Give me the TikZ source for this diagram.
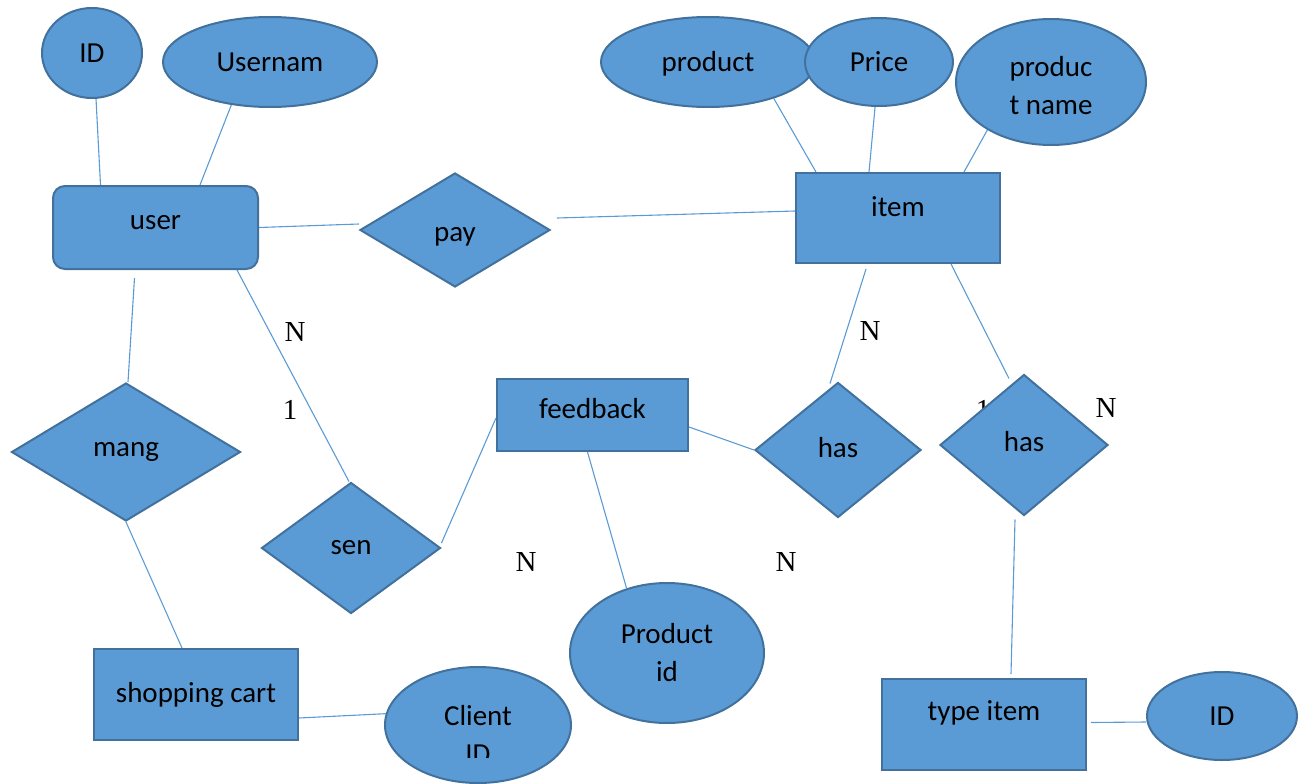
\documentclass[tikz,border=0pt]{standalone}
\usepackage{fontspec}
\setmainfont{Carlito}
\newfontfamily\cardfont{Liberation Serif}
\usetikzlibrary{shapes.geometric}
\pgfdeclarelayer{bg}
\pgfsetlayers{bg,main}
\definecolor{shapefill}{HTML}{5B9BD5}
\definecolor{shapeline}{HTML}{41719C}
\definecolor{linkcol}{HTML}{5B9BD5}
\begin{document}
\begin{tikzpicture}[x=1pt,y=-1pt,
  base/.style={fill=shapefill, draw=shapeline, line width=2pt, inner sep=0pt,
    font=\fontsize{29}{38}\selectfont, text=black},
  entity/.style={base, rectangle},
  attr/.style={base, ellipse, align=center},
  rel/.style={base, diamond},
  cline/.style={draw=linkcol, line width=1.1pt},
  card/.style={font=\cardfont\fontsize{29}{34}\selectfont, inner sep=0pt, text=black}]
\useasboundingbox (0,0) rectangle (1304,784);

% entities
\node[entity, rounded corners=12pt, minimum width=205pt, minimum height=83pt, text depth=10pt] (user) at (155.5,227.5) {user};
\node[entity, minimum width=204pt, minimum height=90pt, text depth=22pt] (item) at (898,218) {item};
\node[entity, minimum width=191pt, minimum height=72pt, text depth=14pt] (fb) at (592.5,415) {feedback};
\node[entity, minimum width=204pt, minimum height=91pt] (cart) at (196,694.5) {shopping cart};
\node[entity, minimum width=204pt, minimum height=91pt, text depth=28pt] (titem) at (984,724.5) {type item};

% attributes
\node[attr, minimum width=100pt, minimum height=90pt] (idu) at (92,53) {ID};
\node[attr, minimum width=214pt, minimum height=90pt] (uname) at (270,62) {Usernam};
\node[attr, minimum width=214pt, minimum height=90pt, text height=24pt] (prod) at (708,62) {product};
\node[attr, minimum width=148pt, minimum height=88pt] (price) at (879,62) {Price};
\node[attr, minimum width=190pt, minimum height=126pt] (pname) at (1051,82) {\rule{0pt}{28pt}produc\\t name};
\node[attr, minimum width=194pt, minimum height=140pt] (pid) at (667,653) {Product\\id};
\node[attr, minimum width=186pt, minimum height=116pt] (client) at (478,725)
  {\rule{0pt}{40pt}Client\\\tikz[baseline=0pt]{\useasboundingbox (-14pt,-2pt) rectangle (14pt,21pt);
   \clip (-20pt,6pt) rectangle (20pt,30pt);
   \node[inner sep=0pt, anchor=base] at (0pt,0pt) {ID};}};
\node[attr, minimum width=150pt, minimum height=88pt] (idt) at (1222,716) {ID};

% relationships
\node[rel, minimum width=190pt, minimum height=114pt, text height=27pt] (pay) at (455,230) {pay};
\node[rel, minimum width=229pt, minimum height=138pt] (mang) at (126,452) {mang};
\node[rel, minimum width=179pt, minimum height=131pt] (sen) at (351,548) {sen};
\node[rel, minimum width=166pt, minimum height=135pt, text depth=6pt] (has1) at (838,450) {has};
\node[rel, minimum width=168pt, minimum height=141pt, text depth=8pt] (has2) at (1024,445) {has};

\begin{pgfonlayer}{bg}
% cardinality labels
\node[card] (c1) at (295,332) {N};
\node[card] (c2) at (290,410) {1};
\node[card] (c3) at (870,331) {N};
\node[card] (c4) at (983,410) {1};
\node[card] (c5) at (1106,408) {N};
\node[card] (c6) at (526,562) {N};
\node[card] (c7) at (786,562) {N};

% connectors
\draw[cline] (idu.-85) -- ([xshift=-55pt]user.north);
\draw[cline] (uname.-132) -- ([xshift=44.5pt]user.north);
\draw[cline] (user.east) -- ([yshift=6pt]pay.west);
\draw[cline] ([xshift=6pt,yshift=12pt]pay.east) -- ([yshift=7pt]item.west);
\draw[cline] (prod.-29) -- ([xshift=-82pt]item.north);
\draw[cline] (price.-95) -- ([xshift=-29pt]item.north);
\draw[cline] (pname.-143) -- ([xshift=66pt]item.north);
\draw[cline] ([xshift=-32pt,yshift=-5pt]item.south) -- ([xshift=-8pt,yshift=-2pt]has1.north);
\draw[cline] ([xshift=53pt]item.south) -- ([xshift=-15pt,yshift=-5pt]has2.north);
\draw[cline] ([xshift=-9pt,yshift=-3pt]has2.south) -- ([xshift=27pt,yshift=4pt]titem.north);
\draw[cline] ([xshift=4pt,yshift=2pt]titem.east) -- ([yshift=-6pt]idt.west);
\draw[cline] ([xshift=-21pt,yshift=-8pt]user.south) -- ([xshift=2pt]mang.north);
\draw[cline] (mang.south) -- ([xshift=-14pt]cart.north);
\draw[cline] ([yshift=-23.5pt]cart.east) -- (client.173);
\draw[cline] ([xshift=81.5pt]user.south) -- ([xshift=-2pt]sen.north);
\draw[cline] ([yshift=5pt]sen.east) -- ([yshift=-3pt]fb.west);
\draw[cline] ([yshift=-12pt]fb.east) -- (has1.west);
\draw[cline] ([xshift=-5pt]fb.south) -- (pid.122);
\end{pgfonlayer}
\end{tikzpicture}
\end{document}
